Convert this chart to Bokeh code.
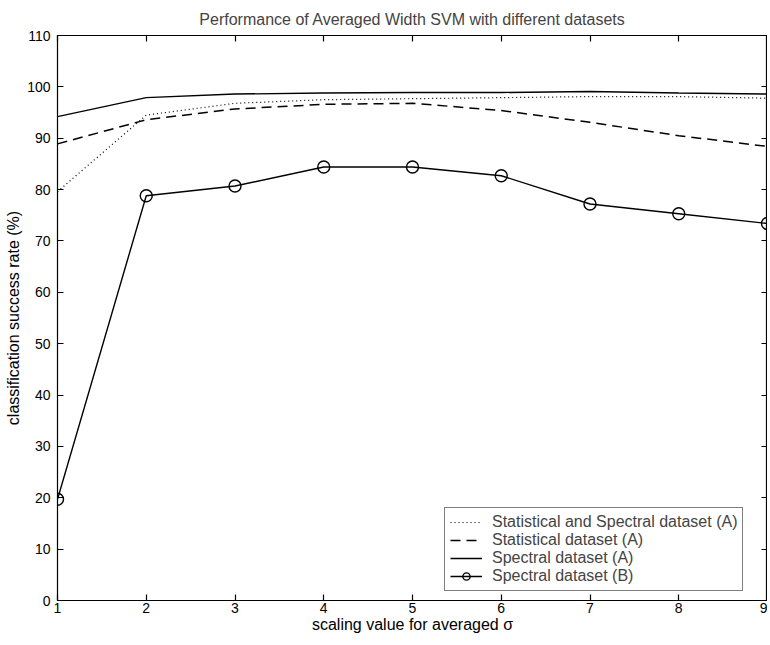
from bokeh.plotting import figure
from bokeh.models import (Range1d, FixedTicker, LinearAxis, Legend, LegendItem,
                          CustomLabelingPolicy)
from bokeh.embed import file_html
from bokeh.resources import INLINE

scaling = [1, 2, 3, 4, 5, 6, 7, 8, 9]
stat_spec_a = [79.6, 94.5, 96.8, 97.5, 97.7, 97.9, 98.1, 98.1, 97.8]
stat_a = [88.9, 93.6, 95.7, 96.6, 96.8, 95.4, 93.1, 90.5, 88.4]
spec_a = [94.2, 97.9, 98.6, 98.8, 98.9, 98.9, 99.1, 98.8, 98.6]
spec_b = [19.7, 78.8, 80.7, 84.4, 84.4, 82.7, 77.2, 75.3, 73.4]

x_ticks = [1, 2, 3, 4, 5, 6, 7, 8, 9]
y_ticks = [0, 10, 20, 30, 40, 50, 60, 70, 80, 90, 100, 110]

FONT = "Liberation Sans"

p = figure(width=767, height=640, output_backend="svg", toolbar_location=None,
           x_range=Range1d(1, 9), y_range=Range1d(0, 110),
           min_border_left=57, min_border_right=0, min_border_top=34, min_border_bottom=40)

p.title.text = "Performance of Averaged Width SVM with different datasets"
p.title.align = "center"
p.title.text_font = FONT
p.title.text_font_size = "16px"
p.title.text_font_style = "normal"
p.title.offset = 0
p.title.standoff = 16

p.grid.visible = False
p.outline_line_color = "black"
p.outline_line_width = 1.2
p.background_fill_color = "white"
p.border_fill_color = "white"

for ax in (p.xaxis[0], p.yaxis[0]):
    ax.axis_line_color = None
    ax.major_tick_in = 6
    ax.major_tick_out = 0
    ax.minor_tick_line_color = None
    ax.major_tick_line_color = "black"
    ax.major_tick_line_width = 1.2
    ax.major_label_text_font = FONT
    ax.major_label_text_font_size = "14px"
    ax.major_label_text_color = "black"
    ax.axis_label_text_font = FONT
    ax.axis_label_text_font_size = "16px"
    ax.axis_label_text_font_style = "normal"
    ax.axis_label_text_color = "black"

p.xaxis[0].ticker = FixedTicker(ticks=x_ticks)
p.yaxis[0].ticker = FixedTicker(ticks=y_ticks)
p.xaxis[0].axis_label = "scaling value for averaged σ"
p.yaxis[0].axis_label = "classification success rate (%)"
p.xaxis[0].major_label_standoff = 2
p.yaxis[0].major_label_standoff = 7
p.xaxis[0].axis_label_standoff = 0
p.yaxis[0].axis_label_standoff = 2

no_labels = CustomLabelingPolicy(code="""
for (const i of [...indices]) { indices.unset(i) }
return indices
""")

top = LinearAxis(ticker=FixedTicker(ticks=x_ticks), axis_line_color=None,
                 major_tick_in=6, major_tick_out=0, minor_tick_line_color=None,
                 major_label_policy=no_labels, major_label_standoff=0,
                 major_label_text_font_size="0px", major_tick_line_width=1.2)
right = LinearAxis(ticker=FixedTicker(ticks=y_ticks), axis_line_color=None,
                   major_tick_in=6, major_tick_out=0, minor_tick_line_color=None,
                   major_label_policy=no_labels, major_label_standoff=0,
                   major_label_text_font_size="0px", major_tick_line_width=1.2)
p.add_layout(top, "above")
p.add_layout(right, "right")

r1 = p.line(scaling, stat_spec_a, line_color="black", line_width=1.2, line_dash="1 3")
r2 = p.line(scaling, stat_a, line_color="black", line_width=1.5, line_dash="10 6")
r3 = p.line(scaling, spec_a, line_color="black", line_width=1.4)
r4 = p.line(scaling, spec_b, line_color="black", line_width=1.4)
r5 = p.scatter(scaling, spec_b, marker="circle", size=12, line_color="black",
               line_width=1.4, fill_color=None)

legend = Legend(items=[
    LegendItem(label="Statistical and Spectral dataset (A)", renderers=[r1]),
    LegendItem(label="Statistical dataset (A)", renderers=[r2]),
    LegendItem(label="Spectral dataset (A)", renderers=[r3]),
    LegendItem(label="Spectral dataset (B)", renderers=[r4, r5]),
], location=(387, 9))
legend.border_line_color = "black"
legend.border_line_width = 1.2
legend.background_fill_color = "white"
legend.background_fill_alpha = 1
legend.label_text_font = FONT
legend.label_text_font_size = "16px"
legend.label_height = 18
legend.glyph_height = 18
legend.glyph_width = 32
legend.spacing = 0
legend.padding = 5
legend.margin = 0
legend.label_standoff = 10
p.add_layout(legend, "center")

open("out.html", "w").write(file_html(p, INLINE))
